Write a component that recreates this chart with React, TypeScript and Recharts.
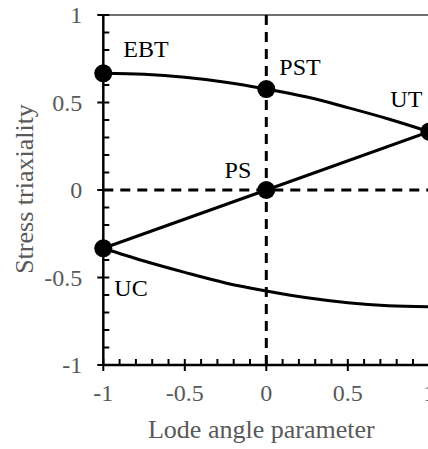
import {
  ComposedChart,
  Line,
  Scatter,
  XAxis,
  YAxis,
  ReferenceLine,
  Label,
} from "recharts";

// Lode angle parameter samples along the plane-stress curves
const lodeX = [-1, -0.75, -0.5, -0.25, 0, 0.25, 0.5, 0.75, 1];
const upperEta = [0.667, 0.661, 0.644, 0.616, 0.577, 0.531, 0.471, 0.406, 0.333];
const lowerEta = [-0.333, -0.406, -0.471, -0.531, -0.577, -0.616, -0.644, -0.661, -0.667];

// straight line UC -> PS -> UT
const lineX = [-1, 0, 1];
const lineEta = [-0.333, 0, 0.333];

// marked states
const pointNames = ["EBT", "PST", "UT", "PS", "UC"];
const pointX = [-1, 0, 1, 0, -1];
const pointEta = [0.667, 0.577, 0.333, 0, -0.333];

const xMajor = [-1, -0.5, 0, 0.5, 1];
const xMinor = [-0.9, -0.8, -0.7, -0.6, -0.4, -0.3, -0.2, -0.1, 0.1, 0.2, 0.3, 0.4, 0.6, 0.7, 0.8, 0.9];
const yMajor = [-1, -0.5, 0, 0.5, 1];
const yMinor = [-0.9, -0.8, -0.7, -0.6, -0.4, -0.3, -0.2, -0.1, 0.1, 0.2, 0.3, 0.4, 0.6, 0.7, 0.8, 0.9];

const upperData = lodeX.map((x, i) => ({ x, y: upperEta[i] }));
const lowerData = lodeX.map((x, i) => ({ x, y: lowerEta[i] }));
const straightData = lineX.map((x, i) => ({ x, y: lineEta[i] }));
const pointData = pointNames.map((name, i) => ({ name, x: pointX[i], y: pointEta[i] }));

const FONT = '"Liberation Serif", "Times New Roman", serif';
const GREY = "#595959";

// where each annotation sits relative to its dot
const labelPos: Record<string, { dx: number; dy: number; anchor: "start" | "end" }> = {
  EBT: { dx: 20, dy: -16, anchor: "start" },
  PST: { dx: 13, dy: -14, anchor: "start" },
  UT: { dx: -7, dy: -25, anchor: "end" },
  PS: { dx: -15, dy: -12, anchor: "end" },
  UC: { dx: 11, dy: 48, anchor: "start" },
};

const isMajor = (v: number, majors: number[]) => majors.some((m) => Math.abs(m - v) < 1e-6);

function XTick(props: any) {
  const { x, y, payload } = props;
  const major = isMajor(payload.value, xMajor);
  return (
    <g>
      <line x1={x} x2={x} y1={y - 6} y2={major ? y + 6 : y} stroke="#000" strokeWidth={2} />
      {major && (
        <text x={x} y={y + 36} textAnchor="middle" fill={GREY} fontSize={24} fontFamily={FONT}>
          {String(payload.value)}
        </text>
      )}
    </g>
  );
}

function YTick(props: any) {
  const { x, y, payload } = props;
  const major = isMajor(payload.value, yMajor);
  return (
    <g>
      <line x1={major ? x - 6 : x} x2={x + 6} y1={y} y2={y} stroke="#000" strokeWidth={2} />
      {major && (
        <text x={x - 21} y={y + 8} textAnchor="end" fill={GREY} fontSize={24} fontFamily={FONT}>
          {String(payload.value)}
        </text>
      )}
    </g>
  );
}

function PointShape(props: any) {
  const { cx, cy, payload } = props;
  const p = labelPos[payload.name];
  return (
    <g>
      <circle cx={cx} cy={cy} r={9} fill="#000" />
      <text x={cx + p.dx} y={cy + p.dy} textAnchor={p.anchor} fill="#000" fontSize={24} fontFamily={FONT}>
        {payload.name}
      </text>
    </g>
  );
}

function YTitle(props: any) {
  const { viewBox } = props;
  const cy = viewBox.y + viewBox.height / 2 - 1;
  return (
    <text
      x={33}
      y={cy}
      transform={`rotate(-90 33 ${cy})`}
      textAnchor="middle"
      fill={GREY}
      fontSize={26}
      fontFamily={FONT}
    >
      Stress triaxiality
    </text>
  );
}

export default function App() {
  return (
    <div style={{ position: "fixed", left: 0, top: 0, width: 428, height: 449, overflow: "hidden", background: "#fff" }}>
      <ComposedChart width={440} height={449} margin={{ top: 15, right: 10.7, bottom: 0, left: 0 }}>
        <XAxis
          dataKey="x"
          type="number"
          domain={[-1, 1]}
          ticks={[...xMajor, ...xMinor]}
          interval={0}
          tick={<XTick />}
          tickLine={false}
          tickSize={0}
          tickMargin={0}
          height={84}
          axisLine={{ stroke: "#000", strokeWidth: 2.5 }}
        >
          <Label
            value="Lode angle parameter"
            position="insideBottom"
            offset={11}
            dx={-5}
            fill={GREY}
            fontSize={26}
            fontFamily={FONT}
          />
        </XAxis>
        <YAxis
          dataKey="y"
          type="number"
          domain={[-1, 1]}
          ticks={[...yMajor, ...yMinor]}
          interval={0}
          tick={<YTick />}
          tickLine={false}
          tickSize={0}
          tickMargin={0}
          width={103.3}
          axisLine={{ stroke: "#000", strokeWidth: 2.5 }}
        >
          <Label content={<YTitle />} />
        </YAxis>
        <ReferenceLine y={1} stroke="#404040" strokeWidth={1.5} />
        <ReferenceLine x={0} stroke="#000" strokeWidth={3} strokeDasharray="10 7" />
        <ReferenceLine y={0} stroke="#000" strokeWidth={3} strokeDasharray="10 7" />
        <Line data={upperData} dataKey="y" type="monotone" stroke="#000" strokeWidth={3} dot={false} isAnimationActive={false} />
        <Line data={lowerData} dataKey="y" type="monotone" stroke="#000" strokeWidth={3} dot={false} isAnimationActive={false} />
        <Line data={straightData} dataKey="y" type="linear" stroke="#000" strokeWidth={3} dot={false} isAnimationActive={false} />
        <Scatter data={pointData} dataKey="y" shape={<PointShape />} isAnimationActive={false} />
      </ComposedChart>
    </div>
  );
}
